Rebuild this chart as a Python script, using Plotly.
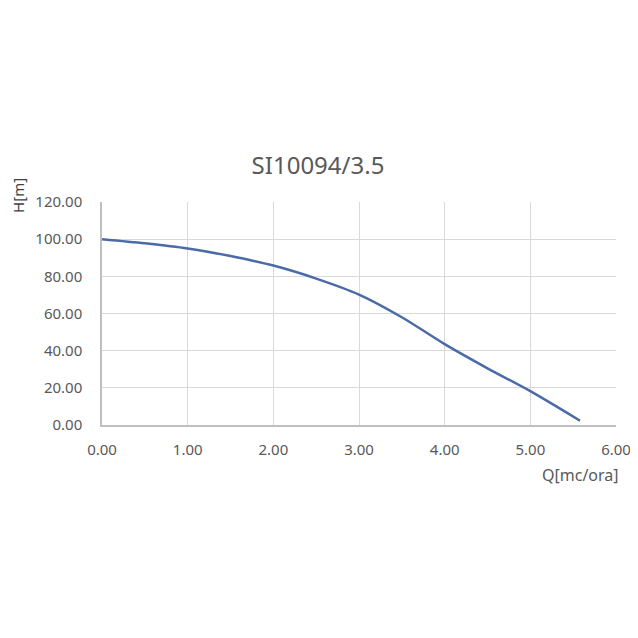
import plotly.graph_objects as go

q_values = [0.0, 0.5, 1.0, 1.5, 2.0, 2.5, 3.0, 3.5, 4.0, 4.5, 5.0, 5.58]
h_values = [100.0, 97.8, 95.0, 90.9, 85.8, 78.8, 70.2, 58.0, 43.5, 30.5, 18.2, 2.3]
x_ticks = [0, 1, 2, 3, 4, 5, 6]
y_ticks = [0, 20, 40, 60, 80, 100, 120]

title_text = "SI10094/3.5"
x_title = "Q[mc/ora]"
y_title = "H[m]"

FONT = "Noto Sans"
GRAY = "#595959"

# page is rendered with an 8px body margin; compensate
OFF = 8
L, T, W, H = 101.5 - OFF, 201.7 - OFF, 514.5, 223.3
FW = FH = 638

fig = go.Figure()
fig.add_trace(go.Scatter(
    x=q_values, y=h_values, mode="lines",
    line=dict(color="#4a6aa8", width=2.5, shape="spline", smoothing=0.85),
    hoverinfo="skip", showlegend=False,
))

fig.update_layout(
    width=FW, height=FH,
    margin=dict(l=L, r=FW - L - W, t=T, b=FH - T - H),
    paper_bgcolor="white", plot_bgcolor="white",
    font=dict(family=FONT, color=GRAY, size=15),
    title=dict(text=title_text, x=(318 - OFF) / FW, xanchor="center",
               y=1 - (166 - OFF) / FH, yanchor="middle",
               font=dict(family=FONT, size=24, color=GRAY)),
    xaxis=dict(range=[0, 6], tickvals=x_ticks, ticktext=[f"{v:.2f}" for v in x_ticks],
               showgrid=True, gridcolor="#d9d9d9", gridwidth=1,
               showline=True, linecolor="#bfbfbf", linewidth=1.5,
               zeroline=False, ticks="", ticklabelstandoff=10,
               tickfont=dict(family=FONT, size=15, color=GRAY), fixedrange=True),
    yaxis=dict(range=[0, 120], tickvals=y_ticks, ticktext=[f"{v:.2f}" for v in y_ticks],
               showgrid=True, gridcolor="#d9d9d9", gridwidth=1,
               showline=True, linecolor="#bfbfbf", linewidth=1.5,
               zeroline=False, ticks="", ticklabelstandoff=15,
               tickfont=dict(family=FONT, size=15, color=GRAY), fixedrange=True),
    annotations=[
        dict(text=y_title, xref="paper", yref="paper",
             x=(18 - OFF - L) / W, y=1 + (T - (195 - OFF)) / H,
             xanchor="center", yanchor="middle", textangle=-90, showarrow=False,
             font=dict(family=FONT, size=15, color="#404040")),
        dict(text=x_title, xref="paper", yref="paper",
             x=(621 - OFF - L) / W, y=-((475 - OFF) - (T + H)) / H,
             xanchor="right", yanchor="middle", showarrow=False,
             font=dict(family=FONT, size=16, color=GRAY)),
    ],
)

fig.write_html("out.html")
